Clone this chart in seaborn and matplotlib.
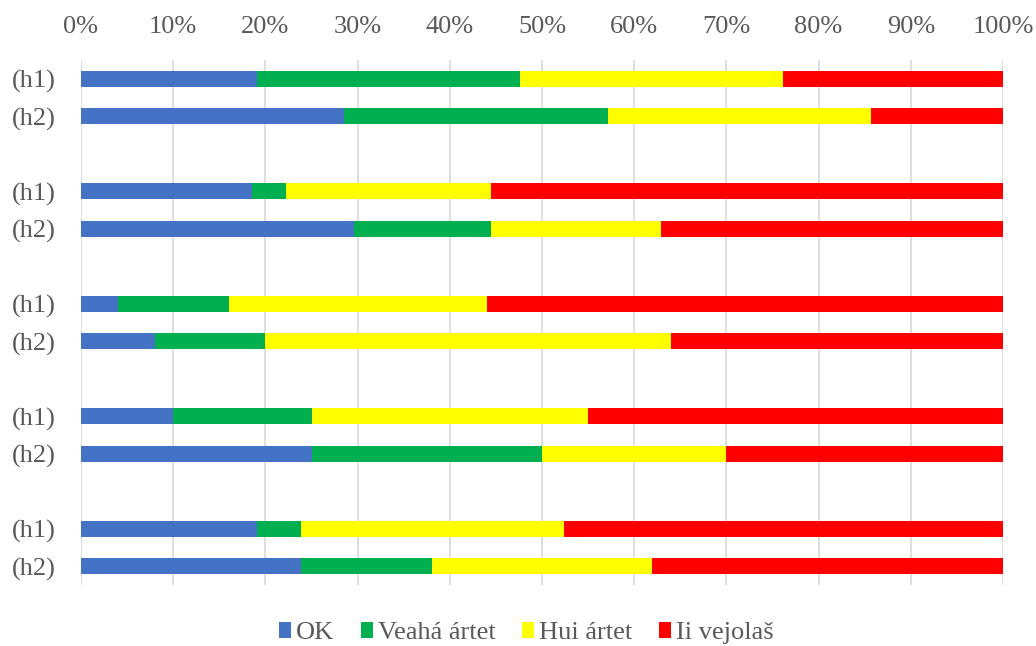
import matplotlib.pyplot as plt
import seaborn as sns
import pandas as pd
from matplotlib.patches import Patch

# Dữ liệu (phần trăm, mỗi thanh cộng lại = 100)
row_labels = ['(h1)', '(h2)', '(h1)', '(h2)', '(h1)', '(h2)', '(h1)', '(h2)', '(h1)', '(h2)']
row_pos = [0, 1, 3, 4, 6, 7, 9, 10, 12, 13]
series_names = ['OK', 'Veahá ártet', 'Hui ártet', 'Ii vejolaš']
ok = [19.05, 28.57, 18.52, 29.63, 4.0, 8.0, 10.0, 25.0, 19.05, 23.81]
veaha = [28.57, 28.57, 3.70, 14.81, 12.0, 12.0, 15.0, 25.0, 4.76, 14.29]
hui = [28.57, 28.57, 22.22, 18.52, 28.0, 44.0, 30.0, 20.0, 28.57, 23.81]
ii = [23.81, 14.29, 55.56, 37.04, 56.0, 36.0, 45.0, 30.0, 47.62, 38.10]
colors = ['#4472C4', '#00B050', '#FFFF00', '#FF0000']

sns.set_theme(style='white')
plt.rcParams['font.family'] = ['Liberation Serif', 'DejaVu Serif']
text_color = '#595959'

df = pd.DataFrame({'pos': row_pos, 'OK': ok, 'Veahá ártet': veaha,
                   'Hui ártet': hui, 'Ii vejolaš': ii})
# cộng dồn để vẽ thanh xếp chồng
cum = df[series_names].cumsum(axis=1)
cum['pos'] = df['pos']

fig = plt.figure(figsize=(10.36, 6.46), dpi=100)
ax = fig.add_axes([81 / 1036, 1 - 585 / 646, (1003 - 81) / 1036, (585 - 60) / 646])

# vẽ từ lớp ngoài cùng vào trong
for name, c in reversed(list(zip(series_names, colors))):
    sns.barplot(data=cum, x=name, y='pos', orient='y', native_scale=True,
                color=c, saturation=1, width=0.42, errorbar=None,
                linewidth=0, ax=ax)

ax.set_xlim(0, 100)
ax.set_ylim(13.5, -0.5)
ax.xaxis.tick_top()
ax.set_xticks(range(0, 101, 10))
ax.set_xticklabels([f'{v}%' for v in range(0, 101, 10)])
ax.set_yticks(row_pos)
ax.set_yticklabels(row_labels)
ax.tick_params(axis='both', length=0, labelsize=19, colors=text_color)
ax.tick_params(axis='x', pad=16)
ax.tick_params(axis='y', pad=18)
ax.set_xlabel('')
ax.set_ylabel('')
ax.grid(True, axis='x', color='#D9D9D9', linewidth=1.2)
ax.set_axisbelow(True)
for s in ax.spines.values():
    s.set_visible(False)

handles = [Patch(facecolor=c, edgecolor='none', label=n) for n, c in zip(series_names, colors)]
fig.legend(handles=handles, loc='center', bbox_to_anchor=(0.508, 1 - 633 / 646), ncol=4,
           frameon=False, fontsize=19, handlelength=0.45, handleheight=0.6,
           handletextpad=0.2, columnspacing=1.0, labelcolor=text_color)

fig.savefig('out.png', dpi=100)
